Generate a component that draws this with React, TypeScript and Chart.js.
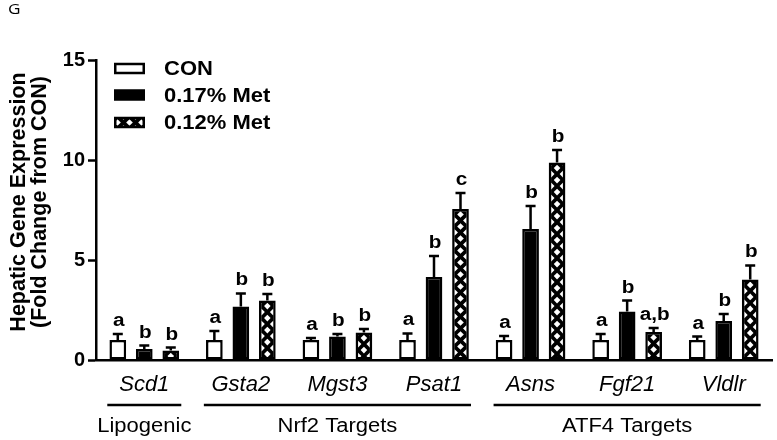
import { useEffect, useRef } from "react";
import { Chart, registerables } from "chart.js";

Chart.register(...registerables);

const FONT = "'Liberation Sans', Arial, Helvetica, sans-serif";

// ---- data ----
const genes = ["Scd1", "Gsta2", "Mgst3", "Psat1", "Asns", "Fgf21", "Vldlr"];
const seriesNames = ["CON", "0.17% Met", "0.12% Met"];
const conMean = [1.0, 1.0, 1.0, 1.0, 1.0, 1.0, 1.0];
const conErr = [0.3, 0.45, 0.1, 0.33, 0.2, 0.3, 0.17];
const met017Mean = [0.55, 2.67, 1.17, 4.15, 6.55, 2.42, 1.95];
const met017Err = [0.17, 0.66, 0.13, 1.05, 1.15, 0.55, 0.35];
const met012Mean = [0.47, 2.97, 1.37, 7.55, 9.87, 1.4, 4.03];
const met012Err = [0.15, 0.33, 0.18, 0.8, 0.63, 0.2, 0.7];
const conLetters = ["a", "a", "a", "a", "a", "a", "a"];
const met017Letters = ["b", "b", "b", "b", "b", "b", "b"];
const met012Letters = ["b", "b", "b", "c", "b", "a,b", "b"];
const groupNames = ["Lipogenic", "Nrf2 Targets", "ATF4 Targets"];
const groupFirst = [0, 1, 4];
const groupLast = [0, 3, 6];
const yTicks = [0, 5, 10, 15];
const yTitleLines = ["Hepatic Gene Expression", "(Fold Change from CON)"];
const panelLetter = "G";

const errs = [conErr, met017Err, met012Err];
const letters = [conLetters, met017Letters, met012Letters];

const BW = 2.5;

function drawHatch(ctx: CanvasRenderingContext2D, left: number, top: number, w: number, h: number, cx: number, cy: number, px: number) {
  const P = 12;
  const R = 3.3;
  ctx.save();
  ctx.beginPath();
  ctx.rect(left, top, w, h);
  ctx.clip();
  ctx.fillStyle = "#000";
  ctx.fillRect(left, top, w, h);
  ctx.fillStyle = "#fff";
  const iMin = Math.floor((left - cx) / px) - 1;
  const iMax = Math.ceil((left + w - cx) / px) + 1;
  const jMin = Math.floor((top - cy) / P) - 1;
  const jMax = Math.ceil((top + h - cy) / P) + 1;
  for (let i = iMin; i <= iMax; i++) {
    for (let j = jMin; j <= jMax; j++) {
      const offs = [[0, 0], [px / 2, P / 2]];
      for (const [ox, oy] of offs) {
        const x = cx + i * px + ox;
        const y = cy + j * P + oy;
        ctx.beginPath();
        ctx.moveTo(x, y - R);
        ctx.lineTo(x + R, y);
        ctx.lineTo(x, y + R);
        ctx.lineTo(x - R, y);
        ctx.closePath();
        ctx.fill();
      }
    }
  }
  ctx.restore();
}

function stretchedText(ctx: CanvasRenderingContext2D, text: string, x: number, y: number, font: string, align: CanvasTextAlign, baseline: CanvasTextBaseline, sx: number) {
  ctx.save();
  ctx.translate(x, y);
  ctx.scale(sx, 1);
  ctx.font = font;
  ctx.textAlign = align;
  ctx.textBaseline = baseline;
  ctx.fillStyle = "#000";
  ctx.fillText(text, 0, 0);
  ctx.restore();
}

const overlayPlugin = {
  id: "overlay",
  afterDatasetsDraw(chart: any) {
    const ctx: CanvasRenderingContext2D = chart.ctx;
    const xs = chart.scales.x;
    const ys = chart.scales.y;
    const area = chart.chartArea;

    // hatch fill for 0.12% Met bars
    const meta2 = chart.getDatasetMeta(2);
    meta2.data.forEach((el: any) => {
      const p = el.getProps(["x", "y", "base", "width"], true);
      const left = p.x - p.width / 2 + BW;
      const w = p.width - 2 * BW;
      const top = Math.min(p.y, p.base) + BW;
      const h = Math.abs(p.base - p.y) - 2 * BW;
      if (h <= 0 || w <= 0) return;
      drawHatch(ctx, left, top, w, h, p.x, top + 3, w);
    });

    // error bars + letters
    ctx.save();
    ctx.strokeStyle = "#000";
    ctx.lineWidth = BW;
    for (let d = 0; d < 3; d++) {
      const meta = chart.getDatasetMeta(d);
      const vals = chart.data.datasets[d].data as number[];
      meta.data.forEach((el: any, i: number) => {
        const p = el.getProps(["x", "y"], true);
        const yTop = ys.getPixelForValue(vals[i] + errs[d][i]);
        ctx.beginPath();
        ctx.moveTo(p.x, p.y);
        ctx.lineTo(p.x, yTop);
        ctx.moveTo(p.x - 5, yTop);
        ctx.lineTo(p.x + 5, yTop);
        ctx.stroke();
        stretchedText(ctx, letters[d][i], p.x + 1, yTop - 8, `bold 18px ${FONT}`, "center", "alphabetic", 1.15);
      });
    }
    ctx.restore();

    // group lines and labels
    ctx.save();
    ctx.strokeStyle = "#000";
    ctx.lineWidth = BW;
    for (let g = 0; g < groupNames.length; g++) {
      const x0 = xs.getPixelForValue(groupFirst[g]) - 37;
      const x1 = xs.getPixelForValue(groupLast[g]) + 37;
      const ly = area.bottom + 45;
      ctx.beginPath();
      ctx.moveTo(x0, ly);
      ctx.lineTo(x1, ly);
      ctx.stroke();
      stretchedText(ctx, groupNames[g], (x0 + x1) / 2, ly + 21, `20px ${FONT}`, "center", "middle", 1.1);
    }
    ctx.restore();

    // legend
    ctx.save();
    const lx = area.left + 18;
    const rows = [area.top + 8.5, area.top + 35, area.top + 62.5];
    const bwid = 31;
    const bh = 11.5;
    for (let d = 0; d < 3; d++) {
      const cy = rows[d];
      const top = cy - bh / 2;
      ctx.fillStyle = "#000";
      ctx.fillRect(lx, top, bwid, bh);
      if (d === 0) {
        ctx.fillStyle = "#fff";
        ctx.fillRect(lx + BW, top + BW, bwid - 2 * BW, bh - 2 * BW);
      } else if (d === 2) {
        drawHatch(ctx, lx + BW, top + BW, bwid - 2 * BW, bh - 2 * BW, lx + bwid / 2, cy, 12);
      }
      stretchedText(ctx, seriesNames[d], lx + 50, cy + 1, `bold 20px ${FONT}`, "left", "middle", 1.1);
    }
    ctx.restore();

    // y title
    ctx.save();
    ctx.fillStyle = "#000";
    ctx.font = `bold 21.5px ${FONT}`;
    ctx.textAlign = "center";
    ctx.textBaseline = "middle";
    const cyT = (area.top + area.bottom) / 2 - 8;
    [19, 40].forEach((x, k) => {
      ctx.save();
      ctx.translate(x, cyT);
      ctx.rotate(-Math.PI / 2);
      ctx.fillText(yTitleLines[k], 0, 0);
      ctx.restore();
    });
    ctx.restore();

    // panel letter
    stretchedText(ctx, panelLetter, 8, 10, `15px 'Open Sans', 'DejaVu Sans', sans-serif`, "left", "middle", 1.15);
  },
};

export default function App() {
  const ref = useRef<HTMLCanvasElement | null>(null);
  useEffect(() => {
    if (!ref.current) return;
    const common = {
      borderColor: "#000",
      borderWidth: BW,
      borderSkipped: false as const,
      barPercentage: 0.63,
      categoryPercentage: 0.823,
    };
    const chart = new Chart(ref.current, {
      type: "bar",
      data: {
        labels: genes,
        datasets: [
          { label: seriesNames[0], data: conMean, backgroundColor: "#fff", ...common },
          { label: seriesNames[1], data: met017Mean, backgroundColor: "#000", ...common },
          { label: seriesNames[2], data: met012Mean, backgroundColor: "#000", ...common },
        ],
      },
      options: {
        responsive: false,
        animation: false,
        events: [],
        layout: { padding: { top: 60, right: 5, left: 0, bottom: 0 } },
        plugins: { legend: { display: false }, tooltip: { enabled: false }, title: { display: false } },
        scales: {
          x: {
            type: "category",
            offset: true,
            grid: { display: false, drawTicks: false },
            border: { display: true, color: "#000", width: BW },
            ticks: {
              color: "#000",
              font: { family: FONT, size: 22, style: "italic" },
              padding: 12,
              maxRotation: 0,
              autoSkip: false,
            },
            afterFit: (s: any) => {
              s.height = 80;
            },
          },
          y: {
            min: 0,
            max: 15,
            afterBuildTicks: (s: any) => {
              s.ticks = yTicks.map((v) => ({ value: v }));
            },
            grid: { drawOnChartArea: false, drawTicks: true, tickLength: 8, tickWidth: BW, tickColor: "#000" },
            border: { display: true, color: "#000", width: BW },
            ticks: { color: "#000", font: { family: FONT, size: 20, weight: "bold" }, padding: 3 },
            afterFit: (s: any) => {
              s.width = 96;
            },
          },
        },
      },
      plugins: [overlayPlugin],
    } as any);
    return () => chart.destroy();
  }, []);
  return (
    <div style={{ position: "absolute", left: 0, top: 0, width: 777, height: 440, background: "#fff" }}>
      <canvas ref={ref} width={777} height={440} style={{ display: "block" }} />
    </div>
  );
}
